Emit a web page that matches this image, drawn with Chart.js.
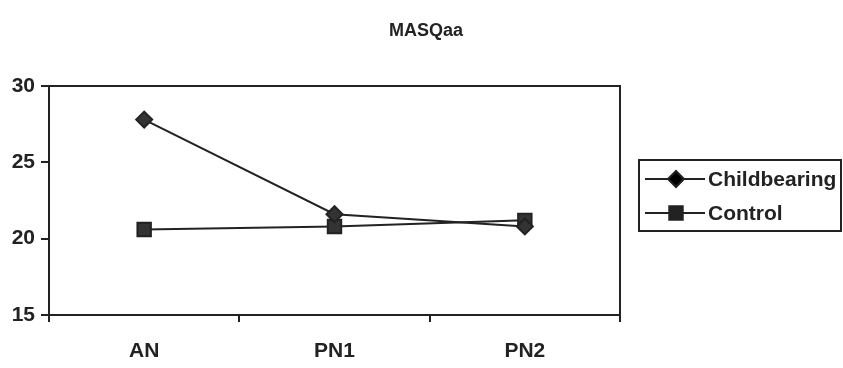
<!DOCTYPE html>
<html>
<head>
<meta charset="utf-8">
<script src="https://cdn.jsdelivr.net/npm/chart.js@4.4.0/dist/chart.umd.min.js"></script>
<style>
  html, body { margin: 0; padding: 0; background: #fff; }
  #wrap { width: 843px; height: 368px; position: relative; }
</style>
</head>
<body>
<div id="wrap"><canvas id="chartMasq"></canvas></div>
<script>
// MASQaa means per time point
const timePoints = ['AN', 'PN1', 'PN2'];
const childbearing = [27.8, 21.6, 20.8];
const control = [20.6, 20.8, 21.2];
const yTicks = [15, 20, 25, 30];
const chartTitle = 'MASQaa';

const ink = '#222';
const family = '"Liberation Sans", Arial, sans-serif';
const labelFont = { family: family, size: 21, weight: 'bold' };

// frame around the plot area + title centred on the page
const frame = {
    id: 'frame',
    afterDraw(chart) {
        const { ctx, chartArea: a } = chart;
        ctx.save();
        ctx.strokeStyle = ink;
        ctx.lineWidth = 2;
        ctx.strokeRect(a.left, a.top, a.right - a.left, a.bottom - a.top);
        ctx.fillStyle = ink;
        ctx.font = 'bold 18px ' + family;
        ctx.textAlign = 'center';
        ctx.textBaseline = 'middle';
        ctx.fillText(chartTitle, 426, 31);
        ctx.restore();
    }
};

// boxed legend to the right of the plot
const boxLegend = {
    id: 'boxLegend',
    afterDraw(chart) {
        const ctx = chart.ctx;
        const x0 = 639, y0 = 160, w = 202, h = 71;
        ctx.save();
        ctx.strokeStyle = ink;
        ctx.lineWidth = 2;
        ctx.strokeRect(x0, y0, w, h);
        chart.data.datasets.forEach((ds, i) => {
            const y = y0 + 19 + i * 34;
            ctx.strokeStyle = ds.borderColor;
            ctx.lineWidth = 2;
            ctx.beginPath();
            ctx.moveTo(x0 + 6, y);
            ctx.lineTo(x0 + 66, y);
            ctx.stroke();
            Chart.helpers.drawPoint(ctx, {
                pointStyle: ds.pointStyle,
                radius: ds.pointRadius,
                borderWidth: 1
            }, x0 + 37, y);
            ctx.fillStyle = ink;
            ctx.font = 'bold 21px ' + family;
            ctx.textBaseline = 'middle';
            ctx.fillText(ds.label, x0 + 69, y + 1);
        });
        ctx.restore();
    }
};

const ctx = document.getElementById('chartMasq').getContext('2d');
const chart = new Chart(ctx, {
    type: 'line',
    data: {
        labels: timePoints,
        datasets: [{
            label: 'Childbearing',
            data: childbearing,
            borderColor: ink,
            backgroundColor: '#333',
            borderWidth: 2,
            pointStyle: 'rectRot',
            pointRadius: 8,
            pointBorderColor: ink,
            pointBackgroundColor: '#333',
            tension: 0
        }, {
            label: 'Control',
            data: control,
            borderColor: ink,
            backgroundColor: '#333',
            borderWidth: 2,
            pointStyle: 'rect',
            pointRadius: 9.5,
            pointBorderColor: ink,
            pointBackgroundColor: '#333',
            tension: 0
        }]
    },
    options: {
        responsive: true,
        maintainAspectRatio: false,
        animation: false,
        layout: { padding: { top: 86, right: 223, bottom: 0, left: 0 } },
        plugins: {
            legend: { display: false },
            tooltip: { enabled: false },
            title: { display: false }
        },
        scales: {
            x: {
                offset: true,
                grid: { offset: true, drawOnChartArea: false, color: ink, lineWidth: 2, tickLength: 7 },
                border: { color: ink, width: 2 },
                ticks: { color: ink, font: labelFont, padding: 17, maxRotation: 0 },
                afterFit(s) { s.height = 53; }
            },
            y: {
                min: 15,
                max: 30,
                afterBuildTicks(s) { s.ticks = yTicks.map(v => ({ value: v })); },
                grid: { drawOnChartArea: false, color: ink, lineWidth: 2, tickLength: 8 },
                border: { color: ink, width: 2 },
                ticks: { color: ink, font: labelFont, padding: 6 },
                afterFit(s) { s.width = 49; }
            }
        }
    },
    plugins: [frame, boxLegend]
});
</script>
</body>
</html>
